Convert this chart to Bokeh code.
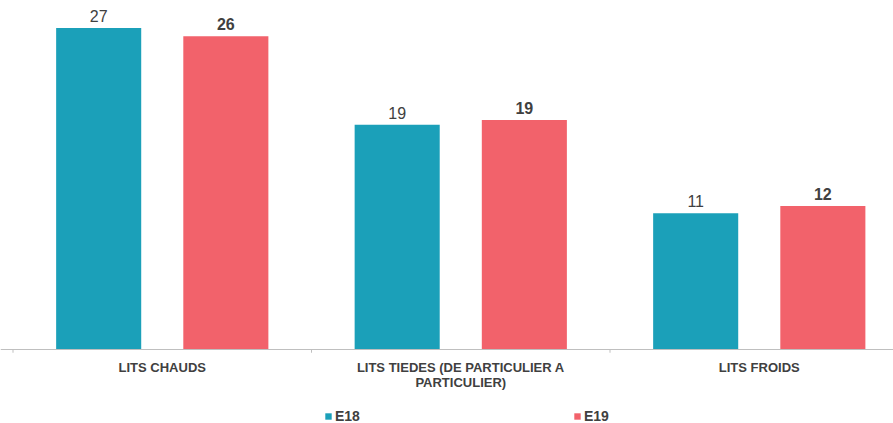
from bokeh.plotting import figure
from bokeh.models import Range1d, Legend, LegendItem, ColumnDataSource, Span
from bokeh.core.properties import value
from bokeh.embed import file_html
from bokeh.resources import INLINE

categories = ["LITS CHAUDS", "LITS TIEDES (DE PARTICULIER A\nPARTICULIER)", "LITS FROIDS"]
series_names = ["E18", "E19"]
e18 = [26.9, 18.8, 11.4]
e19 = [26.2, 19.2, 12.0]
colors = ["#1ba0b9", "#f2626b"]

FONT = "Liberation Sans"
TXT = "#404040"
centers = [i + 0.5 for i in range(len(categories))]
bounds = list(range(len(categories) + 1))
dodge = 0.213
bar_w = 0.285

p = figure(width=893, height=423, output_backend="svg", toolbar_location=None,
           x_range=Range1d(-0.0419, 2.9497), y_range=Range1d(-6.19, 29.2),
           x_axis_type=None, y_axis_type=None,
           min_border_left=0, min_border_right=0, min_border_top=0, min_border_bottom=0)
p.outline_line_color = None
p.grid.visible = False

src18 = ColumnDataSource(dict(x=[c - dodge for c in centers], top=e18,
                              label=[str(int(round(v))) for v in e18]))
src19 = ColumnDataSource(dict(x=[c + dodge for c in centers], top=e19,
                              label=[str(int(round(v))) for v in e19]))

r18 = p.vbar(x="x", top="top", width=bar_w, bottom=0, source=src18, fill_color=colors[0], line_color=None)
r19 = p.vbar(x="x", top="top", width=bar_w, bottom=0, source=src19, fill_color=colors[1], line_color=None)

p.text(x="x", y="top", text="label", source=src18, text_align="center", text_baseline="alphabetic",
       y_offset=-12, text_font=value(FONT), text_font_size="16px", text_color=TXT)
p.text(x="x", y="top", text="label", source=src19, text_align="center", text_baseline="alphabetic",
       y_offset=-12, text_font=value(FONT), text_font_size="16px", text_font_style="bold", text_color=TXT)

# category axis: baseline, boundary ticks, labels
p.add_layout(Span(location=0, dimension="width", line_color="#bfbfbf", line_width=1))
p.segment(x0=bounds, y0=[0] * len(bounds), x1=bounds, y1=[-0.27] * len(bounds),
          line_color="#bfbfbf", line_width=1)
p.text(x=centers, y=[0] * len(centers), text=categories, text_align="center", text_baseline="top",
       y_offset=10, text_font=value(FONT), text_font_size="13px", text_font_style="bold",
       text_color=TXT, text_line_height=1.0)

legend = Legend(items=[LegendItem(label=series_names[0], renderers=[r18]),
                       LegendItem(label=series_names[1], renderers=[r19])],
                orientation="horizontal", location=(324, -1),
                glyph_width=8, glyph_height=8, label_standoff=3, label_width=30, label_height=12,
                spacing=208, padding=0, margin=0,
                label_text_font=FONT, label_text_font_size="14px", label_text_font_style="bold",
                label_text_color=TXT, border_line_color=None, background_fill_alpha=0)
p.add_layout(legend, "center")

open("out.html", "w").write(file_html(p, INLINE))
